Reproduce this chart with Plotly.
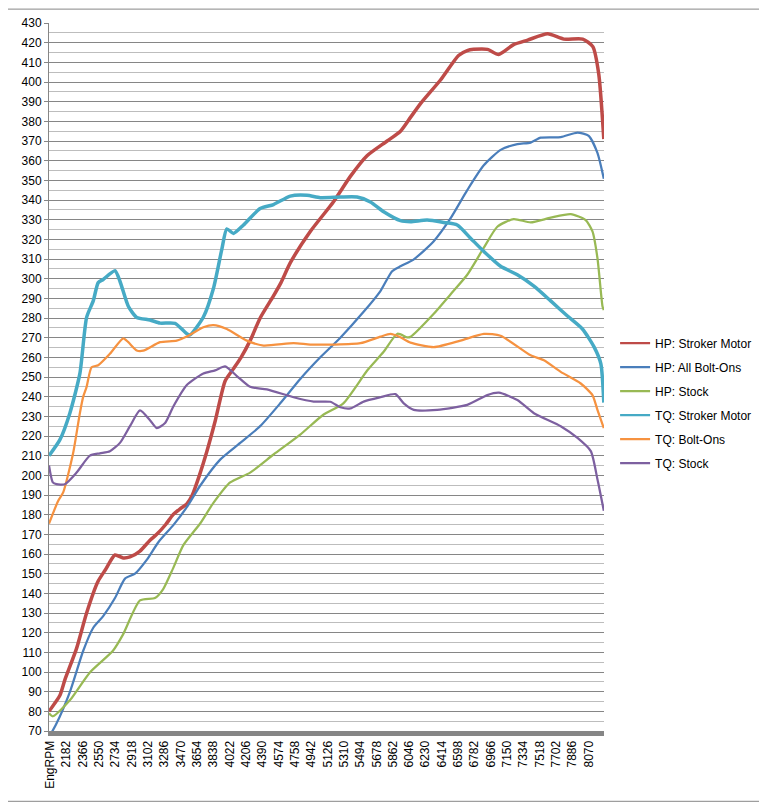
import plotly.graph_objects as go

# RPM tick labels along the category axis (first one is the header cell)
tick_rpm = [1998 + 184 * i for i in range(34)]
tick_text = ['EngRPM'] + [str(r) for r in tick_rpm[1:]]

# HP: Stroker Motor
hp_stroker_rpm = [1984, 2106, 2163, 2295, 2408, 2536, 2620, 2728, 2820, 2897, 3010, 3123, 3199, 3300,
                  3383, 3462, 3538, 3600, 3680, 3763, 3860, 3970, 4061, 4150, 4252, 4365, 4512, 4600,
                  4704, 4930, 5190, 5382, 5570, 5797, 5947, 6060, 6173, 6398, 6602, 6700, 6771, 6929,
                  7054, 7223, 7381, 7607, 7788, 8002, 8116, 8183, 8240]
hp_stroker = [80, 88, 96, 112, 130, 146, 152, 159.5, 158, 158.5, 161.5, 167, 170, 175,
              180, 183, 185.5, 190, 200, 212, 228, 248, 254, 260, 268.5, 280, 291, 298,
              308, 324, 339, 352, 362.5, 370, 375, 382, 389, 401, 413.5, 416, 416.6, 416.6,
              414, 419, 421.3, 424.5, 421.8, 421.8, 418, 404, 371]

# HP: All Bolt-Ons
hp_bolt_rpm = [1984, 2060, 2219, 2370, 2483, 2595, 2728, 2841, 2954, 3086, 3217, 3386, 3538, 3688,
               3914, 4140, 4365, 4591, 4817, 5043, 5269, 5529, 5721, 5853, 5947, 6094, 6320, 6511,
               6700, 6884, 7076, 7265, 7415, 7528, 7754, 7943, 8070, 8168, 8240]
hp_bolt = [67, 73, 89.8, 110.8, 122.5, 128.4, 137.6, 147.5, 150, 157, 166, 174.7, 183.8, 194.7,
           208, 216.5, 225, 236.6, 249, 260, 270, 283, 293.7, 303.8, 306.3, 309.7, 318.9, 330.6,
           345, 357.5, 365.5, 368.4, 369.2, 371.7, 372, 374.3, 372.6, 364, 350.8]

# HP: Stock
hp_stock_rpm = [1984, 2027, 2219, 2445, 2705, 2818, 3010, 3179, 3270, 3383, 3499, 3688, 3838, 4027,
                4252, 4516, 4817, 5077, 5303, 5574, 5755, 5913, 6022, 6060, 6320, 6511, 6700, 6884,
                7039, 7223, 7415, 7641, 7867, 8036, 8112, 8168, 8225, 8240]
hp_stock = [79, 77.5, 85.6, 99.8, 110.8, 119, 136.4, 137.6, 142, 152.7, 164.5, 175.5, 186, 196.4,
            201.4, 210.6, 220.7, 230.8, 236.6, 253.4, 262.7, 272, 270.2, 270.4, 282, 292, 302, 315.5,
            326.4, 330.3, 328.6, 331, 332.8, 329.8, 324, 310.5, 286, 284]

# TQ: Stroker Motor
tq_stroker_rpm = [1984, 2106, 2219, 2332, 2408, 2483, 2539, 2595, 2728, 2784, 2878, 2973, 3123, 3236,
                  3405, 3538, 3575, 3725, 3838, 3933, 3989, 4064, 4177, 4365, 4516, 4704, 4893, 5043,
                  5269, 5458, 5608, 5758, 5947, 6060, 6248, 6436, 6587, 6737, 6888, 7076, 7265, 7452,
                  7641, 7830, 7999, 8131, 8206, 8240]
tq_stroker = [210, 218, 231.6, 251.7, 280.3, 288.7, 298, 299.6, 304, 298.7, 286, 280.3, 279, 277.4,
              277.3, 272, 271.4, 280.5, 295, 315, 325.3, 323, 327.3, 335.7, 337.7, 342, 342.4, 341.2,
              341.5, 341.5, 339, 334, 329.5, 329, 329.8, 328.6, 327.3, 320.6, 313.8, 306.3, 302, 296.2,
              288.7, 281, 274.4, 265.2, 256.8, 237]

# TQ: Bolt-Ons
tq_bolt_rpm = [1984, 2087, 2144, 2257, 2332, 2370, 2408, 2464, 2539, 2671, 2821, 2878, 2973, 3047,
               3236, 3424, 3556, 3725, 3838, 3989, 4215, 4403, 4742, 4930, 5193, 5495, 5721, 5834,
               5947, 6060, 6323, 6624, 6888, 7076, 7415, 7565, 7754, 7980, 8112, 8168, 8240]
tq_bolt = [175.4, 187, 191.3, 211.5, 231.6, 240, 245, 255, 256, 261.8, 269.7, 267.7, 263.5, 263.4,
           267.7, 268.5, 271, 275.3, 276.4, 274.4, 268.5, 266, 267.2, 266.5, 266.5, 267.2, 270.5, 271.9,
           270.2, 267.5, 265.2, 268.5, 271.9, 271, 261, 258.5, 252.6, 246.7, 240.8, 233.3, 224]

# TQ: Stock
tq_stock_rpm = [1984, 2027, 2069, 2163, 2295, 2445, 2558, 2671, 2784, 2897, 3010, 3123, 3199, 3293,
                3386, 3538, 3725, 3857, 3970, 4102, 4252, 4441, 4742, 4968, 5156, 5269, 5382, 5532,
                5721, 5890, 5984, 6097, 6361, 6700, 6926, 7057, 7265, 7452, 7754, 7943, 8093, 8168, 8240]
tq_stock = [205, 196.4, 195.5, 195.5, 201.4, 210, 211.2, 212.3, 216.5, 225, 233, 228, 224, 226.6,
            235, 245.9, 251.8, 253.4, 255.4, 250.5, 245, 243.7, 239.7, 237.5, 237.4, 234.6, 234, 237.5,
            239.7, 241.3, 236.6, 233.3, 233.3, 235.8, 240.8, 242, 238.3, 231.6, 225, 219, 212.3, 198, 182]

series = [
    ('HP: Stroker Motor', hp_stroker_rpm, hp_stroker, '#BE4B48', 3.5),
    ('HP: All Bolt-Ons', hp_bolt_rpm, hp_bolt, '#4A7EBB', 2.25),
    ('HP: Stock', hp_stock_rpm, hp_stock, '#98B954', 2.25),
    ('TQ: Stroker Motor', tq_stroker_rpm, tq_stroker, '#46AAC5', 3.5),
    ('TQ: Bolt-Ons', tq_bolt_rpm, tq_bolt, '#F69240', 2.25),
    ('TQ: Stock', tq_stock_rpm, tq_stock, '#7D60A0', 2.25),
]

fig = go.Figure()
for i, (name, xs, ys, col, w) in enumerate(series):
    fig.add_trace(go.Scatter(x=xs, y=ys, name=name, mode='lines', showlegend=False,
                             line=dict(color=col, width=w, shape='spline', smoothing=0.6)))
# legend entries all drawn with the same thin line, like the Excel legend
for i, (name, xs, ys, col, w) in enumerate(series):
    fig.add_trace(go.Scatter(x=[None], y=[None], name=name, mode='lines', legendgroup=str(i),
                             line=dict(color=col, width=2.25)))

font = dict(family='Liberation Sans, Arial, sans-serif', size=12, color='black')

# the page body adds 8px offset, so the margins are shifted back by 8px
fig.update_layout(
    width=767, height=804,
    margin=dict(l=41, r=171, t=8, b=81),
    paper_bgcolor='white', plot_bgcolor='white',
    font=font,
    showlegend=True,
    legend=dict(x=1.02, y=0.463, xanchor='left', yanchor='middle', tracegroupgap=5,
                font=font, bgcolor='rgba(0,0,0,0)'),
    xaxis=dict(range=[1984, 8242], tickmode='array', tickvals=tick_rpm, ticktext=tick_text,
               tickangle=-90, showgrid=False, zeroline=False, ticks='',
               showline=True, linecolor='#868686', linewidth=5, tickfont=font),
    yaxis=dict(range=[70, 430], dtick=10, tick0=70, showgrid=True, gridcolor='#868686', gridwidth=1,
               zeroline=False, showline=True, linecolor='#868686', linewidth=1,
               ticks='outside', ticklen=4, tickcolor='#868686', tickfont=font,
               minor=dict(dtick=5, showgrid=True, gridcolor='#BDBDBD', gridwidth=1)),
    shapes=[dict(type='rect', xref='paper', yref='paper',
                 x0=-0.0847, x1=1.29, y0=-0.0993, y1=1.0196,
                 line=dict(color='#868686', width=1), fillcolor='rgba(0,0,0,0)', layer='below')],
)

fig.write_html('out.html')
